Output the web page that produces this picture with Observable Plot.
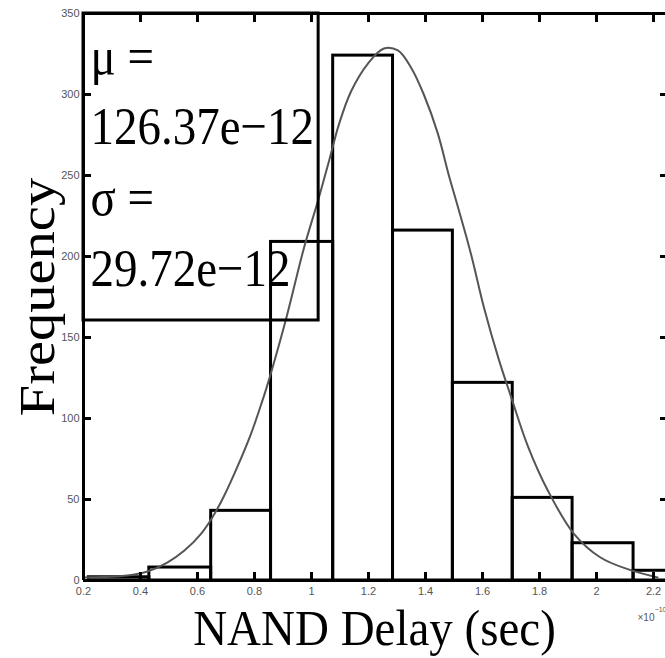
<!DOCTYPE html>
<html>
<head>
<meta charset="utf-8">
<script src="https://cdn.jsdelivr.net/npm/d3@7"></script>
<script src="https://cdn.jsdelivr.net/npm/@observablehq/plot@0.6"></script>
<style>
  html, body { margin: 0; padding: 0; background: white; overflow: hidden; }
</style>
</head>
<body>
<div id="chart"></div>
<script>
// ---- data ----
const binEdges = [0.219, 0.431, 0.648, 0.858, 1.076, 1.286, 1.496, 1.706, 1.916, 2.130, 2.342];
const counts   = [2, 8, 43, 209, 324, 216, 122, 51, 23, 6];

const curveX = [0.2035, 0.354, 0.424, 0.494, 0.554, 0.613, 0.652, 0.694, 0.739, 0.788, 0.823, 0.844,
                0.91, 0.974, 1.023, 1.062, 1.097, 1.139, 1.198, 1.254, 1.303, 1.349, 1.394, 1.443, 1.482,
                1.513, 1.559, 1.605, 1.657, 1.699, 1.759, 1.829, 1.920, 2.014, 2.109, 2.214];
const curveY = [1.9, 3.1, 5.6, 11.1, 18.5, 29, 38.9, 52.5, 69.8, 90.7, 108.5, 120,
                161, 205.6, 234.6, 259.3, 282, 302, 319.1, 328.4, 327.2, 316.7, 300, 276, 250,
                231, 201.9, 168.5, 136.5, 114, 83, 55.6, 29, 14.2, 7, 1.9];

const xTicks = [0.2, 0.4, 0.6, 0.8, 1, 1.2, 1.4, 1.6, 1.8, 2, 2.2];
const xTickLabels = ["0.2", "0.4", "0.6", "0.8", "1", "1.2", "1.4", "1.6", "1.8", "2", "2.2"];
const yTicks = [0, 50, 100, 150, 200, 250, 300, 350];
const yTickLabels = ["0", "50", "100", "150", "200", "250", "300", "350"];

const xDomain = [0.2, 2.242];
const yDomain = [0, 350];

const statsLines = ["\u03bc =", "126.37e\u221212", "\u03c3 =", "29.72e\u221212"];
const statsBox = {x1: 0.2, x2: 1.025, y1: 160.5, y2: 350};

const xLabel = "NAND Delay (sec)";
const yLabel = "Frequency";
const xExponentBase = "\u00d710";
const xExponent = "\u221210";

// ---- derived tables ----
const bars = counts.map((c, i) => ({x1: binEdges[i], x2: binEdges[i + 1], count: c}));
const curve = curveX.map((x, i) => ({x, y: curveY[i]}));

const serif = "'Liberation Serif', 'Times New Roman', serif";
const sans = "'Liberation Sans', Arial, sans-serif";

const chart = Plot.plot({
  width: 665,
  height: 658,
  marginLeft: 83,
  marginRight: 0,
  marginTop: 13,
  marginBottom: 78,
  x: {domain: xDomain},
  y: {domain: yDomain},
  style: {background: "white"},
  marks: [
    Plot.rect(bars, {x1: "x1", x2: "x2", y1: 0, y2: "count", fill: "none", stroke: "black", strokeWidth: 3, inset: 0}),
    Plot.line(curve, {x: "x", y: "y", stroke: "#555", strokeWidth: 2, curve: "catmull-rom"}),
    Plot.rect([statsBox], {x1: "x1", x2: "x2", y1: "y1", y2: "y2", fill: "none", stroke: "black", strokeWidth: 3, inset: 0}),
    // frame (left, bottom, top)
    Plot.ruleX([xDomain[0]], {stroke: "black", strokeWidth: 3}),
    Plot.ruleY([yDomain[0], yDomain[1]], {stroke: "black", strokeWidth: 3}),
    // inward ticks
    Plot.ruleX(xTicks, {x: d => d, y1: yDomain[0], y2: yDomain[0], insetTop: -8, stroke: "black", strokeWidth: 3}),
    Plot.ruleX(xTicks, {x: d => d, y1: yDomain[1], y2: yDomain[1], insetBottom: -9, stroke: "black", strokeWidth: 3}),
    Plot.ruleY(yTicks, {y: d => d, x1: xDomain[0], x2: xDomain[0], insetRight: -8, stroke: "black", strokeWidth: 3}),
    Plot.ruleY(yTicks, {y: d => d, x1: xDomain[1], x2: xDomain[1], insetLeft: -5, stroke: "black", strokeWidth: 3}),
    // tick labels
    Plot.axisX(xTicks, {anchor: "bottom", tickSize: 0, tickPadding: 7, fontSize: 11, color: "#555",
      fontFamily: sans, label: null, tickFormat: d => xTickLabels[xTicks.indexOf(d)]}),
    Plot.axisY(yTicks, {anchor: "left", tickSize: 0, tickPadding: 4, fontSize: 11, color: "#555",
      fontFamily: sans, label: null, tickFormat: d => yTickLabels[yTicks.indexOf(d)]}),
    // exponent
    Plot.text([xExponentBase], {frameAnchor: "bottom-right", textAnchor: "end", dx: -11, dy: 40, fontSize: 10, fill: "#555", fontFamily: sans}),
    Plot.text([xExponent], {frameAnchor: "bottom-right", textAnchor: "end", dx: 1, dy: 31, fontSize: 7, fill: "#555", fontFamily: sans}),
    // axis titles
    Plot.text([xLabel], {frameAnchor: "bottom", textAnchor: "middle", lineAnchor: "middle", dy: 47.5,
      fontSize: 47, fontFamily: serif, fill: "black"}),
    Plot.text([yLabel], {frameAnchor: "left", textAnchor: "middle", lineAnchor: "middle", rotate: -90, dx: -46,
      fontSize: 50, fontFamily: serif, fill: "black"}),
    // stats text
    Plot.text([statsLines.join("\n")], {frameAnchor: "top-left", textAnchor: "start", lineAnchor: "top",
      dx: 7, dy: 8.7, lineHeight: 1.332, fontSize: 47, fontFamily: serif, fill: "black"})
  ]
});

document.getElementById("chart").appendChild(chart);

// vertical stretch of serif text to match the reference's aspect
function stretchText(svg, content, cyScreen, s) {
  const t = [...svg.querySelectorAll("text")].find(e => e.textContent === content);
  if (!t) return;
  const parent = t.parentNode;
  const m = parent.getCTM();
  const cy = cyScreen - (m ? m.f : 0);
  const w = document.createElementNS("http://www.w3.org/2000/svg", "g");
  w.setAttribute("transform", `translate(0,${cy}) scale(1,${s}) translate(0,${-cy})`);
  parent.insertBefore(w, t);
  w.appendChild(t);
}
stretchText(chart, xLabel, 627.5, 1.1);
stretchText(chart, yLabel, 296.5, 1.13);
stretchText(chart, statsLines.join(""), 13, 1.13);
</script>
</body>
</html>
